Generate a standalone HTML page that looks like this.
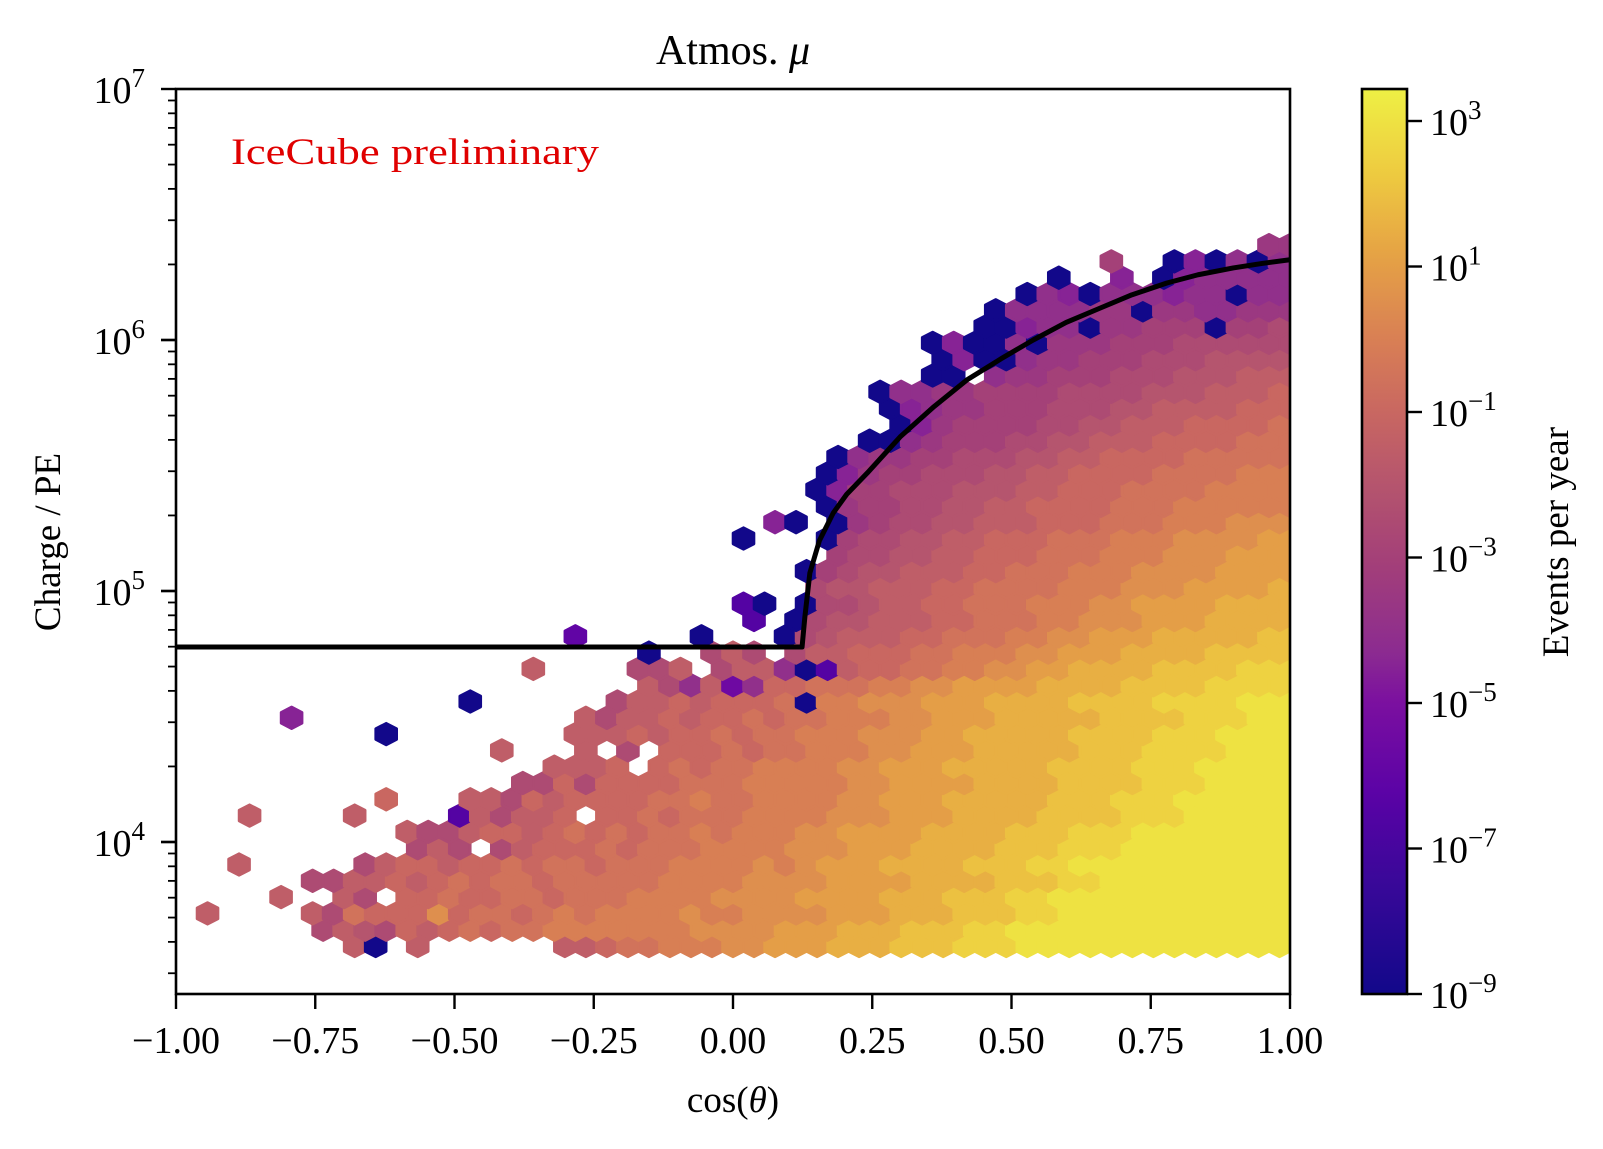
<!DOCTYPE html>
<html><head><meta charset="utf-8">
<style>
html,body{margin:0;padding:0;background:#fff;}
svg{display:block;font-family:"Liberation Serif",serif;}
</style></head>
<body>
<svg id="chart" width="1603" height="1149" viewBox="0 0 1603 1149" xmlns="http://www.w3.org/2000/svg">
<defs>
<clipPath id="plotclip"><rect x="176" y="89" width="1114" height="905"/></clipPath>
<linearGradient id="cbgrad" x1="0" y1="1" x2="0" y2="0"></linearGradient>
</defs>
<rect width="1603" height="1149" fill="#fff"/>
<g id="hexes" clip-path="url(#plotclip)"></g>
<g id="curve" clip-path="url(#plotclip)"></g>
<g id="axes"></g>
<g id="cbar"></g>
<text x="733" y="64" text-anchor="middle" font-size="42">Atmos. <tspan font-style="italic">μ</tspan></text>
<text x="231" y="164" font-size="37" fill="#e00000" textLength="368" lengthAdjust="spacingAndGlyphs">IceCube preliminary</text>
<text x="733" y="1112" text-anchor="middle" font-size="37">cos(<tspan font-style="italic">θ</tspan>)</text>
<text transform="translate(60,542) rotate(-90)" text-anchor="middle" font-size="37">Charge / PE</text>
<text transform="translate(1568,542) rotate(-90)" text-anchor="middle" font-size="37">Events per year</text>
</svg>
<script>
// ---- data ----
const hexRows = [
"........pa.p......ppqrrsssttuuuvvvwwwxxxyyyyyyyyyyyyy",
".......nponqpqrqrrsssssssttttuuuvvvwwwxxyyyyyyyyyyyyyy",
".p....pnrqqqtqrrqrsrsssstssttttuuuvvvwwwxxyyyyyyyyyyyy",
".....p..pn.qqrqqrrqrrrssssttttuuuuvvvwwwxxyyyyyyyyyyyy",
"......nnppqpqrqrrqrrrrrssssttttuuuuvvvvwwwxxyyyyyyyyyy",
"...p.....npqqpqqrqrrqrrrsssststuuuvvvvwwwxxyyyyyyyyyyy",
"...........npn.npqqqrqrrrsssstttuuuvvvvwwwxxxyyyyyyyy",
"...........pnnpqqpqrqrqrrsrsssttuuuuvvvvwwwxxxyyyyyyyy",
"...p....p....fpnppq.qqrqrrrsssstttuuuvvvvwwwwxxxyyyyy",
"..........q...ppnqpqqqqrrsrrssssttuuuvvvvvwwwxxxyyyyyy",
"................nnqnqqqqrrrsssssttuuuuvvvvwwwwxxxyyyy",
"..................pppq.qrqrrssssttuuuvvvvvwwwwxxxyyyyy",
"...............p...p.n.qqqrqrrsssttuuuvvvvvwwwxxxxyyy",
"..........a........pppqpqqrqrrssstttuuvvvvvwwwwxxxyyyy",
".....j.............pnppqpqqrqrrsssttuuuvvvvvwwwwxxxyy",
"..............a......nppqpqqqrasstttuuuvvvvwwwwxxxxyyy",
"......................pnkphkqqrrrssttuuuuvvvvwwwwxxxx",
".................p....nnp.nppkafpqqrrssttuuvvvvwwwwxxx",
"......................a..npn.nppqqqrrsssttuuuvvvvwwww",
"...................g.....a...anopppqqrrrssttuuuvvvvvww",
"...........................f.anoopppqqrrrsstttuuuvvvv",
"...........................fa.annoppqqrrrsssttuuuuvvvv",
"..............................noopppqqrrrrssstttuuuuv",
"..............................amnoopppqqrrrsssttttuuuu",
"...............................mnnooppqqqrrrssstttuuu",
"...........................a...amnnooppqqqrrrsssttttuu",
"............................ja.almnnoopppqqqrrrsssttt",
"...............................almmnnooppqqqqrrrssssss",
"..............................ajmmnnnoooppqqqrrrrssss",
"...............................ajlmmnnnooppqqqqrrrrsss",
"...............................akllmmnnnooppqqqqrrrrr",
".................................aaklmmmnnoopppqqqqrrr",
"..................................ajlmmmmnnoopppqqqqr",
"..................................ajkllmmmnnnooppppqqq",
".................................akkllmmmmnnnnooopppq",
"....................................aa.kllmmmnnnooopppp",
"....................................ajaakllmmmnnnoooo",
"....................................ajaakalllmmmnnnnnn",
"......................................aajkkallmmmammn",
".......................................akkkkllallkklll",
"........................................akjakkkjkkakk",
"..........................................a..j.ajkkkkk",
"............................................m..ajakak",
"....................................................ll"
];
const valueCodeBase = 97;       // 'a'
const valueMin = -9;            // log10 value of code 'a'
const valueStep = 0.5;          // log10 step per letter
const curveX = [-1, 0.124, 0.129, 0.138, 0.155, 0.180, 0.204, 0.241, 0.300, 0.361, 0.420, 0.481, 0.539, 0.598, 0.659, 0.716, 0.779, 0.835, 0.898, 0.95, 1.0];
const curveLogY = [4.777, 4.777, 4.896, 5.072, 5.20, 5.311, 5.385, 5.470, 5.614, 5.735, 5.841, 5.925, 6.000, 6.07, 6.127, 6.18, 6.227, 6.26, 6.287, 6.305, 6.32];
const xTicks = [-1, -0.75, -0.5, -0.25, 0, 0.25, 0.5, 0.75, 1];
const xTickLabels = ["−1.00","−0.75","−0.50","−0.25","0.00","0.25","0.50","0.75","1.00"];
const yTickExps = [4, 5, 6, 7];
const cbTickExps = [3, 1, -1, -3, -5, -7, -9];

// ---- scales ----
const PL=176, PR=1290, PT=89, PB=994;
const XMIN=-1, XMAX=1, LYMAX=7, LYMIN=7-(PB-PT)/251;
function sx(v){return PL+(v-XMIN)/(XMAX-XMIN)*(PR-PL);}
function sy(ly){return PB-(ly-LYMIN)/(LYMAX-LYMIN)*(PB-PT);}
const CBL=1362, CBR=1407, CBT=89, CBB=994, CMIN=-9, CMAX=3.44;
function cy(v){return CBB-(v-CMIN)/(CMAX-CMIN)*(CBB-CBT);}
// hex lattice (data coords)
const hexDX=2/53, hexX0Odd=-1, hexX0Even=-1+1/53, hexY0=3.5857, hexDY=0.06494;

// colormap stops sampled from the reference colorbar
const cmT=[0,0.12,0.22,0.32,0.38,0.48,0.56,0.64,0.72,0.82,0.91,1.0];
const cmC=[[18,8,138],[56,8,152],[90,2,166],[122,14,160],[140,44,144],[164,64,120],[180,84,110],[200,102,98],[216,126,85],[230,164,68],[238,204,64],[238,240,68]];
function cmap(v){
  let t=(v-CMIN)/(CMAX-CMIN); t=Math.max(0,Math.min(1,t));
  let i=0; while(i<cmT.length-2 && t>cmT[i+1]) i++;
  const u=(t-cmT[i])/(cmT[i+1]-cmT[i]);
  const a=cmC[i], b=cmC[i+1];
  const c=a.map((x,j)=>Math.round(x+(b[j]-x)*u));
  return "rgb("+c.join(",")+")";
}
const NS="http://www.w3.org/2000/svg";
function mk(tag,attrs,parent){const e=document.createElementNS(NS,tag);for(const k in attrs)e.setAttribute(k,attrs[k]);parent.appendChild(e);return e;}

// ---- hexes ----
const gh=document.getElementById("hexes");
const hw=(sx(hexDX)-sx(0))/2;
const rowPx=Math.abs(sy(hexY0+hexDY)-sy(hexY0));
const tip=rowPx*2/3, sh=rowPx/3;
hexRows.forEach((row,r)=>{
  const x0=(r%2===0)?hexX0Even:hexX0Odd;
  for(let k=0;k<row.length;k++){
    const ch=row[k]; if(ch==='.'||ch===' ')continue;
    const v=valueMin+valueStep*(ch.charCodeAt(0)-valueCodeBase);
    const cx=sx(x0+k*hexDX), cyy=sy(hexY0+r*hexDY);
    const pts=[[0,-tip],[hw,-sh],[hw,sh],[0,tip],[-hw,sh],[-hw,-sh]].map(p=>(cx+p[0]).toFixed(2)+","+(cyy+p[1]).toFixed(2)).join(" ");
    const col=cmap(v);
    const h=mk("polygon",{points:pts,fill:col,stroke:col,"stroke-width":"2.6","stroke-linejoin":"round"},gh);
    
    
  }
});

// ---- curve ----
const gc=document.getElementById("curve");
const d=curveX.map((x,i)=>(i?"L":"M")+sx(x).toFixed(2)+","+sy(curveLogY[i]).toFixed(2)).join(" ");
const cp=mk("path",{d:d,fill:"none",stroke:"#000","stroke-width":"5","stroke-linejoin":"round"},gc);



// ---- axes ----
const ga=document.getElementById("axes");
const frame=mk("rect",{x:PL,y:PT,width:PR-PL,height:PB-PT,fill:"none",stroke:"#000","stroke-width":"2.6"},ga);


xTicks.forEach((v,i)=>{
  const x=sx(v);
  const t=mk("line",{x1:x,x2:x,y1:PB,y2:PB+15,stroke:"#000","stroke-width":"2.4"},ga);
  
  
  const l=mk("text",{x:x,y:1053,"text-anchor":"middle","font-size":"38"},ga);
  l.textContent=xTickLabels[i];
  
  
});
for(let e=3;e<=6;e++){
  for(let m=1;m<=9;m++){
    const ly=e+Math.log10(m);
    if(ly<LYMIN-1e-6||ly>LYMAX+1e-6)continue;
    const y=sy(ly), major=(m===1);
    const t=mk("line",{x1:PL,x2:PL-(major?15:8),y1:y,y2:y,stroke:"#000","stroke-width":major?"2.4":"1.8"},ga);
    
    
  }
}
yTickExps.forEach(e=>{
  const y=sy(e);
  const t=mk("line",{x1:PL,x2:PL-15,y1:y,y2:y,stroke:"#000","stroke-width":"2.4"},ga);
  
  
  const l=mk("text",{x:145,y:y+14,"text-anchor":"end","font-size":"38"},ga);
  
  
  l.appendChild(document.createTextNode("10"));
  const s=mk("tspan",{dy:"-16","font-size":"27"},l); s.textContent=String(e);
});

// ---- colorbar ----
const grad=document.getElementById("cbgrad");
for(let i=0;i<=40;i++){
  const t=i/40, v=CMIN+t*(CMAX-CMIN);
  mk("stop",{offset:t,"stop-color":cmap(v)},grad);
}
const gb=document.getElementById("cbar");
const cbr=mk("rect",{x:CBL,y:CBT,width:CBR-CBL,height:CBB-CBT,fill:"url(#cbgrad)",stroke:"#000","stroke-width":"2.6"},gb);


cbTickExps.forEach(e=>{
  const y=cy(e);
  const t=mk("line",{x1:CBR,x2:CBR+15,y1:y,y2:y,stroke:"#000","stroke-width":"2.4"},gb);
  
  
  const l=mk("text",{x:1430,y:y+14,"font-size":"38"},gb);
  
  
  l.appendChild(document.createTextNode("10"));
  const s=mk("tspan",{dy:"-16","font-size":"27"},l); s.textContent=(e<0?"−"+(-e):String(e));
});
</script>
</body></html>
